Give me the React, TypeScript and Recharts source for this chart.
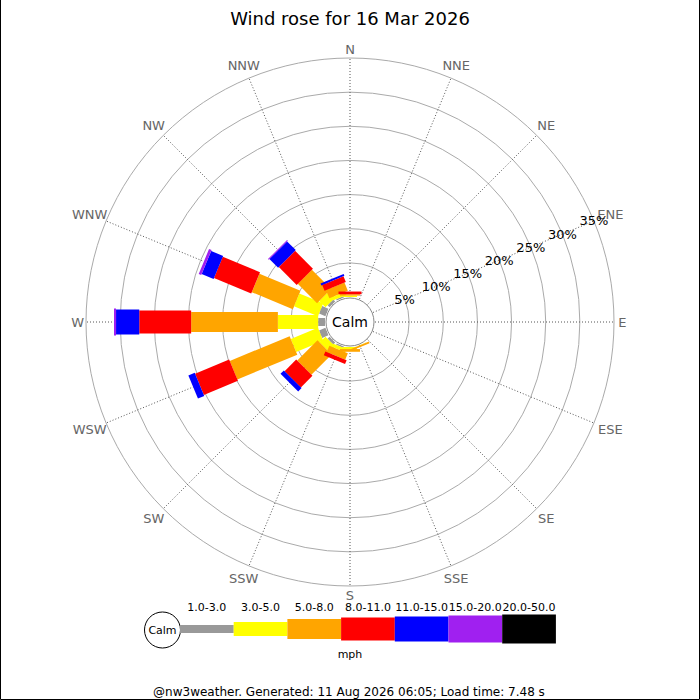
import React from "react"
import {
  PolarAngleAxis,
  PolarGrid,
  PolarRadiusAxis,
  RadialBar,
  RadialBarChart,
} from "recharts"

const directions = ["N", "NNE", "NE", "ENE", "E", "ESE", "SE", "SSE", "S", "SSW", "SW", "WSW", "W", "WNW", "NW", "NNW"]
const speedBands = ["1.0-3.0", "3.0-5.0", "5.0-8.0", "8.0-11.0", "11.0-15.0", "15.0-20.0", "20.0-50.0"]

// % of time per direction, one array per speed band (mph)
const band1to3 = [0, 0, 0, 0, 0, 0, 0, 0, 0, 0.2, 0.4, 1.0, 1.0, 1.0, 0.4, 0.2]
const band3to5 = [0.2, 0, 0, 0, 0, 0, 0, 0.05, 0.3, 0.5, 1.2, 4.3, 5.9, 3.8, 1.3, 0.5]
const band5to8 = [0.2, 0, 0, 0, 0, 0, 0, 0.25, 0.4, 1.0, 4.2, 9.5, 12.7, 6.5, 4.0, 1.3]
const band8to11 = [0.4, 0, 0, 0, 0, 0, 0, 0, 0, 0.6, 2.4, 5.4, 7.6, 5.9, 3.7, 0.9]
const band11to15 = [0, 0, 0, 0, 0, 0, 0, 0, 0, 0, 0.7, 1.0, 3.4, 1.9, 1.8, 0.3]
const band15to20 = [0, 0, 0, 0, 0, 0, 0, 0, 0, 0, 0, 0, 0.3, 0.4, 0.15, 0]
const band20to50 = [0, 0, 0, 0, 0, 0, 0, 0, 0, 0, 0, 0, 0, 0, 0, 0]

const ringTicks = [5, 10, 15, 20, 25, 30, 35]

const bandSeries = [band1to3, band3to5, band5to8, band8to11, band11to15, band15to20, band20to50]
const bandColors = ["#999999", "#ffff00", "#ffa500", "#ff0000", "#0000ff", "#a020f0", "#000000"]
const bandWidths = [8, 14, 20, 23, 25, 27, 29]

const rows = directions.map((dir, i) => {
  const row: Record<string, string | number> = { dir }
  bandSeries.forEach((s, k) => {
    row["b" + k] = s[i]
  })
  return row
})

const FONT = "'DejaVu Sans', sans-serif"
// recharts puts the sector half a band past the tick, pull it back onto the spoke
const HALF_BAND = 180 / directions.length

// straight bar of fixed width along the middle of the sector recharts gives us
function barShape(width: number) {
  return (props: any) => {
    const { cx, cy, innerRadius, outerRadius, startAngle, endAngle, fill } = props
    if (!(outerRadius - innerRadius > 0.01)) return <g />
    const mid = (((startAngle + endAngle) / 2 - HALF_BAND) * Math.PI) / 180
    const ux = Math.cos(-mid)
    const uy = Math.sin(-mid)
    const h = width / 2
    const pts = [
      [innerRadius, -h],
      [outerRadius, -h],
      [outerRadius, h],
      [innerRadius, h],
    ]
      .map(([r, o]) => `${cx + ux * r - uy * o},${cy + uy * r + ux * o}`)
      .join(" ")
    return <polygon points={pts} fill={fill} />
  }
}

function DirTick(props: any) {
  const { x, y, payload } = props
  const a = (payload.coordinate * Math.PI) / 180
  const ux = Math.cos(-a)
  const uy = Math.sin(-a)
  const w = String(payload.value).length * 8.6
  const half = Math.abs(ux) * (w / 2) + Math.abs(uy) * 5
  return (
    <text
      x={x + ux * half}
      y={y + uy * half}
      textAnchor="middle"
      dominantBaseline="central"
      fill="#666"
      fontSize={13}
      fontFamily={FONT}
    >
      {payload.value}
    </text>
  )
}

function RingTick(props: any) {
  const { x, y, payload } = props
  return (
    <text x={x} y={y} textAnchor="middle" dominantBaseline="central" fill="#000" fontSize={13} fontFamily={FONT}>
      {payload.value}%
    </text>
  )
}

export default function App() {
  const legX = 180
  const legW = 53.7
  const legY = 629
  return (
    <div
      style={{
        position: "absolute",
        left: 0,
        top: 0,
        width: 700,
        height: 700,
        background: "#fff",
        fontFamily: FONT,
      }}
    >
      <RadialBarChart
        width={700}
        height={700}
        cx={350}
        cy={322}
        innerRadius={25}
        outerRadius={264}
        startAngle={90}
        endAngle={-270}
        layout="centric"
        data={rows}
        margin={{ top: 0, right: 0, bottom: 0, left: 0 }}
      >
        <PolarGrid gridType="circle" radialLines={false} stroke="#aaa" />
        <PolarGrid gridType="circle" polarRadius={[]} stroke="#555" strokeDasharray="1 2" />
        <PolarAngleAxis
          dataKey="dir"
          type="category"
          axisLine={false}
          tickLine={false}
          tickSize={4}
          tick={DirTick}
        />
        <PolarRadiusAxis
          type="number"
          domain={[0, 35]}
          ticks={ringTicks}
          angle={22.5}
          axisLine={false}
          tickLine={false}
          tick={RingTick}
        />
        {speedBands.map((name, k) => (
          <RadialBar
            key={name}
            dataKey={"b" + k}
            name={name}
            stackId="speed"
            fill={bandColors[k]}
            shape={barShape(bandWidths[k])}
            isAnimationActive={false}
          />
        ))}
      </RadialBarChart>
      <svg
        width={700}
        height={700}
        style={{ position: "absolute", left: 0, top: 0, pointerEvents: "none" }}
        fontFamily={FONT}
      >
        <text x={350} y={18} textAnchor="middle" dominantBaseline="central" fontSize={18} fill="#000">
          Wind rose for 16 Mar 2026
        </text>
        <circle cx={350} cy={322} r={24} fill="#fff" stroke="#888" />
        <text x={350} y={322} textAnchor="middle" dominantBaseline="central" fontSize={14} fill="#000">
          Calm
        </text>

        <circle cx={162.5} cy={legY + 1} r={18} fill="#fff" stroke="#000" />
        <text x={162.5} y={legY + 1} textAnchor="middle" dominantBaseline="central" fontSize={11} fill="#000">
          Calm
        </text>
        {speedBands.map((name, k) => (
          <g key={name}>
            <rect
              x={legX + k * legW}
              y={legY - bandWidths[k] / 2}
              width={legW}
              height={bandWidths[k]}
              fill={bandColors[k]}
            />
            <text
              x={legX + k * legW + legW / 2}
              y={607}
              textAnchor="middle"
              dominantBaseline="central"
              fontSize={11}
              fill="#000"
            >
              {name}
            </text>
          </g>
        ))}
        <text x={350} y={654} textAnchor="middle" dominantBaseline="central" fontSize={11} fill="#000">
          mph
        </text>
        <text x={349} y={692} textAnchor="middle" dominantBaseline="central" fontSize={12} fill="#000">
          @nw3weather. Generated: 11 Aug 2026 06:05; Load time: 7.48 s
        </text>
        <path d="M0.5,0 L0.5,699.5 L699.5,699.5 L699.5,0" fill="none" stroke="#000" />
      </svg>
    </div>
  )
}
